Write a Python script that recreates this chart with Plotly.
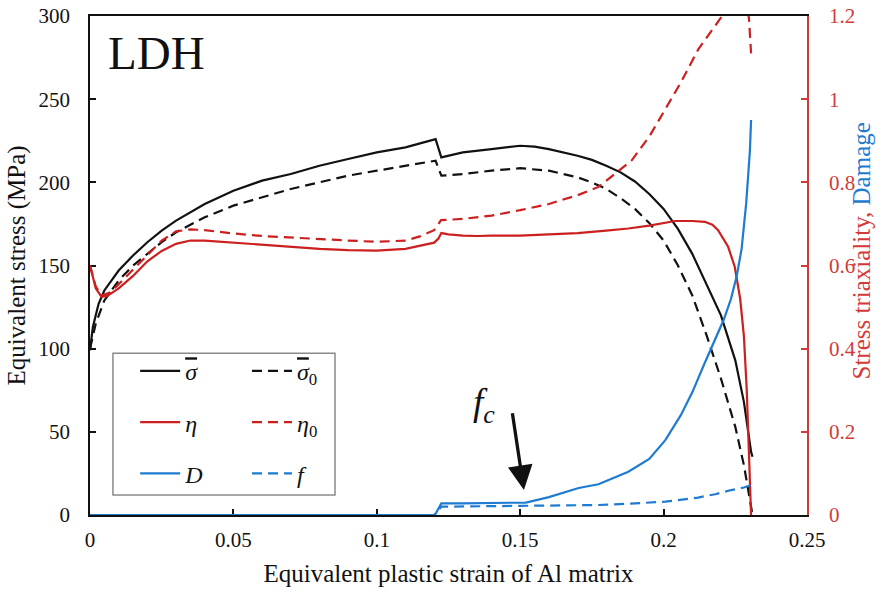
import plotly.graph_objects as go

# ---- data -------------------------------------------------------------
# equivalent stress of the matrix with damage (sigma-bar)
eps_sig = [0, 0.001, 0.003, 0.005, 0.01, 0.015, 0.02, 0.025, 0.03, 0.04, 0.05,
           0.06, 0.07, 0.08, 0.09, 0.1, 0.11, 0.1205, 0.1225, 0.13, 0.14,
           0.15, 0.155, 0.16, 0.17, 0.175, 0.18, 0.185, 0.19, 0.195, 0.2,
           0.205, 0.21, 0.215, 0.22, 0.225, 0.228, 0.2305, 0.231]
sig = [99, 113, 127, 135, 147, 156, 164, 171, 177, 187, 195,
       201, 205, 210, 214, 218, 221, 226, 215, 218, 220,
       222, 221.5, 220, 216, 213.5, 210, 206, 200.5, 193, 184,
       172, 157, 139, 120, 93, 68, 38, 35]

# equivalent stress without damage (sigma-bar_0)
eps_sig0 = [0, 0.002, 0.005, 0.01, 0.015, 0.02, 0.025, 0.03, 0.04, 0.05,
            0.06, 0.07, 0.08, 0.09, 0.1, 0.11, 0.1205, 0.1225, 0.13, 0.14,
            0.15, 0.16, 0.17, 0.175, 0.18, 0.185, 0.19, 0.195, 0.2, 0.205,
            0.21, 0.215, 0.22, 0.225, 0.228, 0.2305, 0.231]
sig0 = [100, 115, 129, 141, 150, 157, 164, 170, 179, 186,
        191, 196, 200, 204, 207, 210, 213, 204, 205, 207,
        208.5, 207, 203, 200, 196, 190.5, 184, 175.5, 165, 150,
        132, 108, 82, 53, 30, 5, 0]

# stress triaxiality with damage (eta)
eps_eta = [0, 0.001, 0.002, 0.004, 0.006, 0.01, 0.015, 0.02, 0.025, 0.03,
           0.035, 0.04, 0.05, 0.06, 0.07, 0.08, 0.09, 0.1, 0.11, 0.115, 0.12,
           0.1215, 0.1225, 0.125, 0.13, 0.135, 0.14, 0.15, 0.16, 0.17, 0.18,
           0.1877, 0.195, 0.2, 0.204, 0.21, 0.2144, 0.217, 0.219, 0.2225,
           0.2248, 0.2267, 0.228, 0.229, 0.2298, 0.2305]
eta = [0.60, 0.57, 0.545, 0.525, 0.527, 0.545, 0.575, 0.61, 0.635, 0.652,
       0.66, 0.66, 0.655, 0.65, 0.645, 0.64, 0.637, 0.636, 0.64, 0.648, 0.655,
       0.665, 0.678, 0.675, 0.672, 0.671, 0.672, 0.672, 0.675, 0.678, 0.684,
       0.689, 0.696, 0.702, 0.707, 0.707, 0.705, 0.698, 0.685, 0.645,
       0.597, 0.52, 0.43, 0.30, 0.15, 0.0]

# stress triaxiality without damage (eta_0)
eps_eta0 = [0, 0.002, 0.004, 0.007, 0.01, 0.015, 0.02, 0.025, 0.03, 0.035,
            0.04, 0.05, 0.06, 0.07, 0.08, 0.09, 0.1, 0.11, 0.115, 0.12,
            0.1224, 0.13, 0.14, 0.15, 0.16, 0.17, 0.1773, 0.1889, 0.195,
            0.2005, 0.206, 0.2121, 0.2202, 0.224, 0.227, 0.229, 0.2298, 0.2305]
eta0 = [0.60, 0.55, 0.528, 0.535, 0.555, 0.59, 0.625, 0.66, 0.682, 0.687,
        0.685, 0.677, 0.671, 0.667, 0.664, 0.66, 0.657, 0.66, 0.67, 0.685,
        0.709, 0.712, 0.72, 0.733, 0.748, 0.769, 0.789, 0.853, 0.91,
        0.974, 1.04, 1.12, 1.198, 1.25, 1.28, 1.24, 1.19, 1.11]

# damage D
eps_D = [0, 0.12, 0.1205, 0.1225, 0.13, 0.14, 0.152, 0.16, 0.1704, 0.1773,
         0.1877, 0.195, 0.2006, 0.206, 0.21, 0.214, 0.218, 0.221, 0.2235,
         0.2255, 0.2272, 0.2288, 0.2301, 0.2305]
D = [0, 0, 0.003, 0.028, 0.028, 0.029, 0.03, 0.043, 0.065, 0.074,
     0.104, 0.135, 0.18, 0.24, 0.295, 0.36, 0.425, 0.47, 0.52,
     0.575, 0.64, 0.75, 0.877, 0.95]

# void volume fraction f
eps_f = [0, 0.12, 0.1225, 0.13, 0.15, 0.17, 0.1773, 0.19, 0.2006, 0.212,
         0.218, 0.2236, 0.228, 0.2305]
f = [0, 0, 0.02, 0.0205, 0.021, 0.023, 0.024, 0.028, 0.032, 0.042,
     0.05, 0.06, 0.066, 0.072]

x_ticks = [0, 0.05, 0.1, 0.15, 0.2, 0.25]
y_ticks = [0, 50, 100, 150, 200, 250, 300]
y2_ticks = [0, 0.2, 0.4, 0.6, 0.8, 1.0, 1.2]

# ---- styling ----------------------------------------------------------
BLACK = "#111111"
RED = "#cc1f1f"
RED_AX = "#d23a3a"
BLUE = "#1f7bd0"
SERIF = "Liberation Serif, Times New Roman, serif"
DASH = "10px,6px"
LW = 2.2
SIGMA_BAR = "<span style='text-decoration:overline'><i>σ</i></span>"

fig = go.Figure()


def add_line(x, y, name, color, dash, axis, legend, group):
    fig.add_trace(go.Scatter(
        x=x, y=y, mode="lines", name=name, yaxis=axis,
        line=dict(color=color, width=LW, dash=dash),
        legend=legend, legendgroup=group, hoverinfo="skip"))


add_line(eps_sig, sig, SIGMA_BAR, BLACK, "solid", "y", "legend", "a")
add_line(eps_sig0, sig0, SIGMA_BAR + "<sub>0</sub>", BLACK, DASH, "y", "legend2", "b")
add_line(eps_eta, eta, "<i>η</i>", RED, "solid", "y2", "legend", "c")
add_line(eps_eta0, eta0, "<i>η</i><sub>0</sub>", RED, DASH, "y2", "legend2", "d")
add_line(eps_f, f, "<i>f</i>", BLUE, DASH, "y2", "legend2", "f")
add_line(eps_D, D, "<i>D</i>", BLUE, "solid", "y2", "legend", "e")

legend_common = dict(
    font=dict(family=SERIF, size=24, color=BLACK),
    bgcolor="rgba(0,0,0,0)", borderwidth=0,
    xanchor="left", yanchor="top", tracegroupgap=17,
    itemwidth=40, traceorder="grouped",
)

TITLE_FONT = dict(family=SERIF, size=25, color=BLACK)
TICK_FONT = dict(family=SERIF, size=21, color=BLACK)

fig.update_layout(
    width=884, height=595,
    margin=dict(l=90, r=77, t=16, b=80, autoexpand=False),
    paper_bgcolor="white", plot_bgcolor="white",
    font=dict(family=SERIF, size=21, color=BLACK),
    showlegend=True,
    legend=dict(x=0.063, y=0.333, **legend_common),
    legend2=dict(x=0.219, y=0.333, **legend_common),
    xaxis=dict(
        range=[0, 0.25], tickvals=x_ticks, ticktext=[f"{v:g}" for v in x_ticks],
        ticks="inside", ticklen=6, tickwidth=1.5, tickcolor=BLACK,
        tickfont=TICK_FONT,
        showline=True, linecolor=BLACK, linewidth=1.5, mirror=True,
        showgrid=False, zeroline=False, layer="below traces",
        ticklabelstandoff=5,
        title=dict(text="Equivalent plastic strain of Al matrix",
                   font=TITLE_FONT, standoff=14),
    ),
    yaxis=dict(
        range=[0, 300], tickvals=y_ticks,
        ticks="inside", ticklen=6, tickwidth=1.5, tickcolor=BLACK,
        tickfont=TICK_FONT,
        showline=True, linecolor=BLACK, linewidth=1.5,
        showgrid=False, zeroline=False, layer="below traces",
        ticklabelstandoff=14,
        title=dict(text="Equivalent stress (MPa)", font=TITLE_FONT, standoff=6),
    ),
    yaxis2=dict(
        range=[0, 1.2], tickvals=y2_ticks, ticktext=[f"{v:g}" for v in y2_ticks],
        overlaying="y", side="right",
        ticks="inside", ticklen=6, tickwidth=1.5, tickcolor=RED_AX,
        tickfont=dict(family=SERIF, size=21, color=RED_AX),
        showline=True, linecolor=RED_AX, linewidth=1.5,
        showgrid=False, zeroline=False, layer="below traces",
        ticklabelstandoff=16,
    ),
    shapes=[dict(type="rect", xref="paper", yref="paper",
                 x0=0.032, x1=0.3417, y0=0.04, y1=0.324,
                 line=dict(color="#8a8a8a", width=1.5), fillcolor="rgba(0,0,0,0)",
                 layer="above")],
    annotations=[
        dict(text=f"<span style='color:{RED_AX}'>Stress triaxiality, </span>"
                  f"<span style='color:{BLUE}'>Damage</span>",
             xref="paper", yref="paper", x=1.0767, y=0.53,
             xanchor="center", yanchor="middle", textangle=-90, showarrow=False,
             font=dict(family=SERIF, size=25)),
        dict(text="LDH", xref="paper", yref="paper", x=0.022, y=0.926,
             xanchor="left", yanchor="middle", showarrow=False,
             font=dict(family=SERIF, size=47, color=BLACK)),
        dict(text="<i>f</i><sub><i>c</i></sub>", xref="x", yref="y",
             x=0.1375, y=66, xanchor="center", yanchor="middle", showarrow=False,
             font=dict(family=SERIF, size=37, color=BLACK)),
        dict(text="", xref="x", yref="y", x=0.1513, y=15,
             axref="x", ayref="y", ax=0.1472, ay=62,
             showarrow=True, arrowhead=2, arrowsize=1.5, arrowwidth=3.3,
             arrowcolor=BLACK),
    ],
)

fig.write_html("out.html")
